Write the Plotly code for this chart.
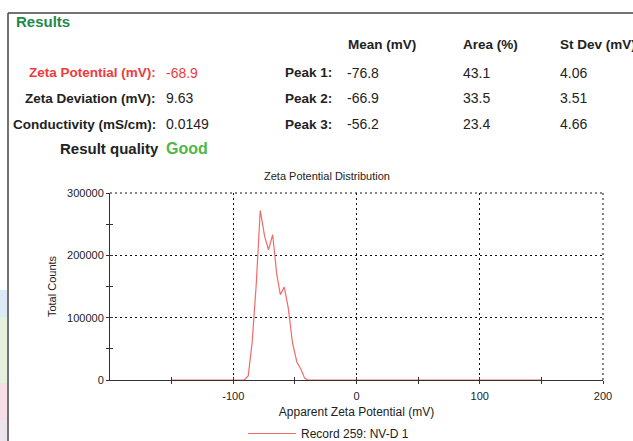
import plotly.graph_objects as go

# ---- data ----
zeta_mv = [-150, -91.0, -87.8, -84.6, -81.3, -78.1, -74.5, -71.4, -68.0, -64.8,
           -61.8, -58.6, -55.4, -51.9, -48.4, -45.3, -42.1, -39.6, 150]
counts = [0, 0, 7000, 62000, 155000, 272000, 230000, 209000, 233000, 171000,
          137000, 149000, 116000, 59000, 29000, 18000, 3000, 0, 0]
series_name = "Record 259: NV-D 1"

x_tickvals = [-100, 0, 100, 200]
x_ticktext = ["-100", "0", "100", "200"]
x_minor = [-150, -50, 50, 150]
y_tickvals = [0, 100000, 200000, 300000]
y_ticktext = ["0", "100000", "200000", "300000"]
y_minor = [50000, 150000, 250000]

summary_labels = ["Zeta Potential (mV):", "Zeta Deviation (mV):", "Conductivity (mS/cm):"]
summary_values = ["-68.9", "9.63", "0.0149"]
peak_labels = ["Peak 1:", "Peak 2:", "Peak 3:"]
peak_mean = ["-76.8", "-66.9", "-56.2"]
peak_area = ["43.1", "33.5", "23.4"]
peak_sd = ["4.06", "3.51", "4.66"]
col_headers = ["Mean (mV)", "Area (%)", "St Dev (mV)"]

# ---- layout geometry ----
W, H = 633, 441
L, R, T, B = 110, 30, 193, 61
PW, PH = W - L - R, H - T - B
FONT = "Liberation Sans, Arial, sans-serif"
DARK = "#222222"
RED = "#ee3b3b"
LINE_RED = "#f26b6b"


def px_x(px):
    return (px - L) / PW


def px_y(py):
    return (H - B - py) / PH


fig = go.Figure()
fig.add_trace(go.Scatter(x=zeta_mv, y=counts, mode="lines", name=series_name,
                         line=dict(color=LINE_RED, width=1.2)))
# helper trace to carry the inner half of the crossing tick marks
fig.add_trace(go.Scatter(x=zeta_mv, y=counts, mode="none", xaxis="x2", yaxis="y2",
                         showlegend=False, hoverinfo="skip"))

ann = []


def text(px, py, s, size=13.5, color=DARK, bold=False, anchor="left"):
    ann.append(dict(x=px_x(px), y=px_y(py), xref="paper", yref="paper",
                    text=f"<b>{s}</b>" if bold else s, showarrow=False,
                    xanchor=anchor, yanchor="middle",
                    font=dict(family=FONT, size=size, color=color)))


text(14, 21, "Results", size=15, color="#1f8a4a", bold=True)
hdr_x = [346, 461, 558]
for hx, h in zip(hdr_x, col_headers):
    text(hx, 44.5, h, bold=True)
row_y = [72.5, 98.3, 124.3]
for i, (lab, val) in enumerate(zip(summary_labels, summary_values)):
    c = RED if i == 0 else DARK
    text(158, row_y[i], lab, color=c, bold=True, anchor="right")
    text(164, row_y[i], val, size=14, color=c)
for i in range(3):
    text(334, row_y[i], peak_labels[i], bold=True, anchor="right")
    text(345, row_y[i], peak_mean[i], size=14)
    text(461, row_y[i], peak_area[i], size=14)
    text(558, row_y[i], peak_sd[i], size=14)
text(161, 148.3, "Result quality", size=15, bold=True, anchor="right")
text(164, 148.3, "Good", size=16, color="#4cb84c", bold=True)
text(327, 175.5, "Zeta Potential Distribution", size=11, anchor="center")

shapes = []
# frame of results panel
shapes.append(dict(type="line", xref="paper", yref="paper", x0=px_x(8), x1=px_x(640),
                   y0=px_y(13), y1=px_y(13), line=dict(color="#444", width=1.5)))
shapes.append(dict(type="line", xref="paper", yref="paper", x0=px_x(8), x1=px_x(8),
                   y0=px_y(13), y1=px_y(445), line=dict(color="#444", width=1.5)))
for y0, y1, col in [(290, 317, "#dce9f6"), (317, 383, "#e5f1de"), (383, 420, "#f6dde6"),
                    (420, 441, "#eee4f0")]:
    shapes.append(dict(type="rect", xref="paper", yref="paper", x0=px_x(0), x1=px_x(7.2),
                       y0=px_y(y0), y1=px_y(y1), line=dict(width=0), fillcolor=col,
                       layer="below"))
# dotted border of the plot area on top and right (edge grid lines)
shapes.append(dict(type="line", xref="paper", yref="paper", x0=0, x1=1, y0=1, y1=1,
                   line=dict(color="#111111", width=1, dash="2px,3px")))
shapes.append(dict(type="line", xref="paper", yref="paper", x0=1, x1=1, y0=0, y1=1,
                   line=dict(color="#111111", width=1, dash="2px,3px")))

axis_common = dict(showline=True, linecolor="#333333", linewidth=1, zeroline=False,
                   ticks="outside", ticklen=3, tickcolor="#333333", tickwidth=1,
                   showgrid=True, gridcolor="#111111", gridwidth=1, griddash="2px,3px",
                   tickfont=dict(family=FONT, size=11, color=DARK), layer="below traces")

fig.update_layout(
    width=W, height=H, margin=dict(l=L, r=R, t=T, b=B, autoexpand=False),
    paper_bgcolor="white", plot_bgcolor="white",
    font=dict(family=FONT, color=DARK),
    xaxis=dict(range=[-200, 200], tickmode="array", tickvals=x_tickvals, ticktext=x_ticktext,
               minor=dict(tickvals=x_minor, ticks="outside", ticklen=3, tickcolor="#333333",
                          showgrid=False),
               ticklabelstandoff=3,
               title=dict(text="Apparent Zeta Potential (mV)", standoff=6,
                          font=dict(family=FONT, size=12, color=DARK)),
               **axis_common),
    yaxis=dict(range=[0, 300000], tickmode="array", tickvals=y_tickvals, ticktext=y_ticktext,
               minor=dict(tickvals=y_minor, ticks="outside", ticklen=3, tickcolor="#333333",
                          showgrid=False),
               title=dict(text="Total Counts", standoff=8,
                          font=dict(family=FONT, size=11, color=DARK)),
               **axis_common),
    xaxis2=dict(overlaying="x", anchor="y", range=[-200, 200], tickmode="array",
                tickvals=x_tickvals + x_minor, ticks="inside", ticklen=3, tickcolor="#333333",
                showticklabels=False, showgrid=False, zeroline=False, showline=False),
    yaxis2=dict(overlaying="y", anchor="x", range=[0, 300000], tickmode="array",
                tickvals=y_tickvals + y_minor, ticks="inside", ticklen=3, tickcolor="#333333",
                showticklabels=False, showgrid=False, zeroline=False, showline=False),
    showlegend=True,
    legend=dict(orientation="h", x=px_x(243), y=px_y(419), xanchor="left", yanchor="top",
                itemwidth=48,
                font=dict(family=FONT, size=12, color=DARK), bgcolor="rgba(0,0,0,0)"),
    annotations=ann, shapes=shapes,
)

fig.write_html("out.html", config={"displayModeBar": False},
               post_script="document.body.style.margin='0px';document.body.style.overflow='hidden';")
